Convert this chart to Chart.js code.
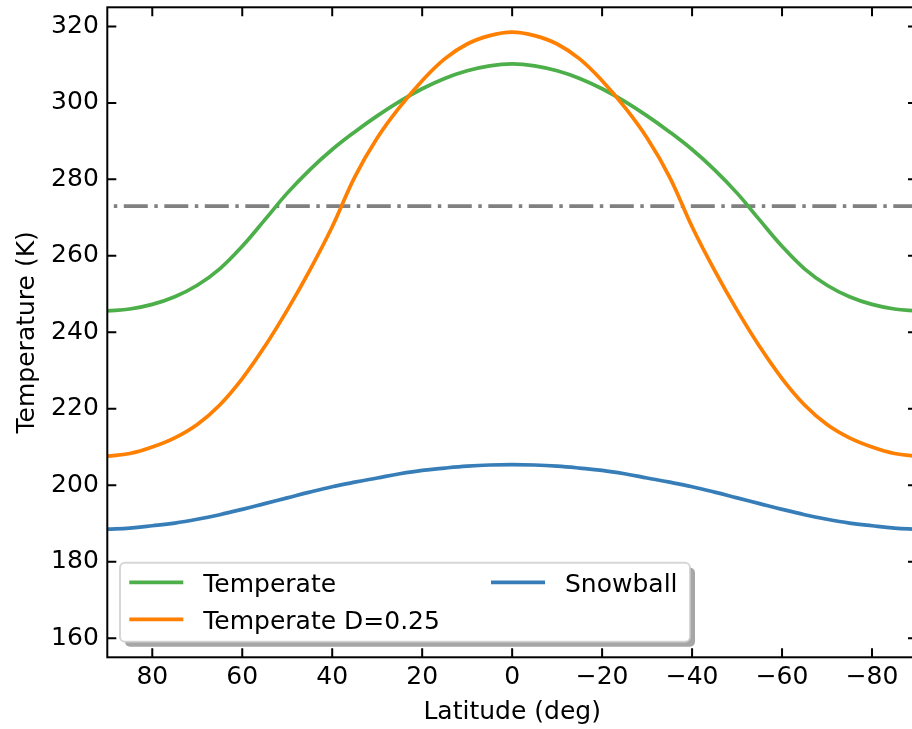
<!DOCTYPE html>
<html>
<head>
<meta charset="utf-8">
<title>Temperature vs latitude</title>
<script src="https://cdn.jsdelivr.net/npm/chart.js@4.4.0/dist/chart.umd.min.js"></script>
<style>
  html, body { margin: 0; padding: 0; background: #fff; overflow: hidden; }
  #wrap { position: relative; width: 930px; height: 729px; }
</style>
</head>
<body>
<div id="wrap"><canvas id="tempChart"></canvas></div>
<script>
// latitude grid in degrees, north pole to south pole
const latitude = [90, 85, 80, 75, 70, 65, 60, 55, 50, 45, 40, 35, 30, 25, 20, 15, 10, 5, 0,
                  -5, -10, -15, -20, -25, -30, -35, -40, -45, -50, -55, -60, -65, -70, -75, -80, -85, -90];

// equilibrium temperatures (K)
const temperate = [245.6, 246.1, 247.3, 249.3, 252.3, 256.6, 262.5, 269.4, 276.4, 282.5, 287.8, 292.4, 296.6, 300.4, 303.7, 306.4, 308.4, 309.7, 310.2,
                   309.7, 308.4, 306.4, 303.7, 300.4, 296.6, 292.4, 287.8, 282.5, 276.4, 269.4, 262.5, 256.6, 252.3, 249.3, 247.3, 246.1, 245.6];
const temperateD025 = [207.6, 208.3, 210.0, 212.4, 215.9, 221.0, 227.9, 236.3, 245.8, 256.2, 267.6, 280.6, 290.8, 298.9, 305.8, 311.5, 315.4, 317.6, 318.5,
                       317.6, 315.4, 311.5, 305.8, 298.9, 290.8, 280.6, 267.6, 256.2, 245.8, 236.3, 227.9, 221.0, 215.9, 212.4, 210.0, 208.3, 207.6];
const snowball = [188.5, 188.8, 189.4, 190.1, 191.1, 192.3, 193.7, 195.2, 196.7, 198.2, 199.6, 200.8, 201.9, 203.0, 203.9, 204.5, 205.0, 205.3, 205.4,
                  205.3, 205.0, 204.5, 203.9, 203.0, 201.9, 200.8, 199.6, 198.2, 196.7, 195.2, 193.7, 192.3, 191.1, 190.1, 189.4, 188.8, 188.5];
const freezing = 273;

const latTicks = [80, 60, 40, 20, 0, -20, -40, -60, -80];
const tempTicks = [160, 180, 200, 220, 240, 260, 280, 300, 320];

const pts = (ys) => latitude.map((x, i) => ({ x: x, y: ys[i] }));
const fmt = (v) => (v < 0 ? '\u2212' + Math.abs(v) : String(v));

Chart.defaults.font.family = "'DejaVu Sans', sans-serif";
Chart.defaults.font.size = 25;
Chart.defaults.color = '#000';

// box around the axes with inward ticks on all four sides
const frame = {
  id: 'frame',
  afterDatasetsDraw(chart) {
    const { ctx, chartArea: a, scales: { x, y } } = chart;
    ctx.save();
    ctx.strokeStyle = '#000';
    ctx.lineWidth = 2;
    ctx.strokeRect(a.left, a.top, a.right - a.left, a.bottom - a.top);
    ctx.beginPath();
    latTicks.forEach(v => {
      const px = x.getPixelForValue(v);
      ctx.moveTo(px, a.bottom); ctx.lineTo(px, a.bottom - 9);
      ctx.moveTo(px, a.top); ctx.lineTo(px, a.top + 9);
    });
    tempTicks.forEach(v => {
      const py = y.getPixelForValue(v);
      ctx.moveTo(a.left, py); ctx.lineTo(a.left + 9, py);
      ctx.moveTo(a.right, py); ctx.lineTo(a.right - 9, py);
    });
    ctx.stroke();
    ctx.restore();
  }
};

function roundRect(ctx, x, y, w, h, r) {
  ctx.beginPath();
  ctx.moveTo(x + r, y);
  ctx.arcTo(x + w, y, x + w, y + h, r);
  ctx.arcTo(x + w, y + h, x, y + h, r);
  ctx.arcTo(x, y + h, x, y, r);
  ctx.arcTo(x, y, x + w, y, r);
  ctx.closePath();
}

// two-column legend with a drop shadow, drawn inside the plot
const legendBox = {
  id: 'legendBox',
  afterDraw(chart) {
    const ctx = chart.ctx;
    const bx = 120, by = 562.7, bw = 570, bh = 79;
    ctx.save();
    ctx.fillStyle = 'rgba(77,77,77,0.5)';
    roundRect(ctx, bx + 5, by + 5, bw, bh, 5);
    ctx.fill();
    ctx.fillStyle = '#fff';
    roundRect(ctx, bx, by, bw, bh, 5);
    ctx.fill();
    ctx.strokeStyle = 'rgba(204,204,204,0.8)';
    ctx.lineWidth = 2;
    ctx.stroke();

    const slots = [{ x: 129.3, y: 582.3 }, { x: 129.3, y: 619.3 }, { x: 491, y: 582.3 }];
    const items = chart.data.datasets.filter(d => d.label);
    ctx.font = "25px 'DejaVu Sans'";
    ctx.textBaseline = 'alphabetic';
    ctx.textAlign = 'left';
    items.forEach((d, i) => {
      const s = slots[i];
      ctx.strokeStyle = d.borderColor;
      ctx.lineWidth = d.borderWidth;
      ctx.beginPath();
      ctx.moveTo(s.x, s.y);
      ctx.lineTo(s.x + 54, s.y);
      ctx.stroke();
      ctx.fillStyle = '#000';
      ctx.fillText(d.label, s.x + 74, s.y + 9.5);
    });
    ctx.restore();
  }
};

new Chart(document.getElementById('tempChart'), {
  type: 'line',
  data: {
    datasets: [
      { label: 'Temperate', data: pts(temperate), borderColor: '#4daf4a', borderWidth: 3.7, order: 3 },
      { label: 'Temperate D=0.25', data: pts(temperateD025), borderColor: '#ff7f00', borderWidth: 3.7, order: 2 },
      { label: 'Snowball', data: pts(snowball), borderColor: '#377eb8', borderWidth: 3.7, order: 1 },
      { label: '', data: [{ x: 90, y: freezing }, { x: -90, y: freezing }], borderColor: '#808080',
        borderWidth: 3.75, borderDash: [24, 6.5, 3.5, 6.5], borderDashOffset: 24, tension: 0, order: 4 }
    ]
  },
  options: {
    responsive: true,
    maintainAspectRatio: false,
    animation: false,
    devicePixelRatio: 1,
    layout: { padding: { top: 7.3, right: 13, bottom: 0, left: 0 } },
    elements: {
      point: { radius: 0 },
      line: { fill: false, tension: 0.4, borderCapStyle: 'butt' }
    },
    plugins: { legend: { display: false }, tooltip: { enabled: false } },
    scales: {
      x: {
        type: 'linear', min: -90, max: 90, reverse: true,
        afterBuildTicks: s => { s.ticks = latTicks.map(v => ({ value: v })); },
        afterFit: s => { s.height = 71.7; s.paddingLeft = 0; s.paddingRight = 0; },
        grid: { display: false, drawTicks: false },
        border: { display: false },
        ticks: { padding: 5, maxRotation: 0, autoSkip: false, callback: v => fmt(v) },
        title: { display: true, text: 'Latitude (deg)', padding: { top: 0, bottom: 1.5 } }
      },
      y: {
        type: 'linear', min: 155, max: 325,
        afterBuildTicks: s => { s.ticks = tempTicks.map(v => ({ value: v })); },
        afterFit: s => { s.width = 107.3; s.paddingTop = 0; s.paddingBottom = 0; },
        grid: { display: false, drawTicks: false },
        border: { display: false },
        ticks: { padding: 8.5, autoSkip: false, callback: v => fmt(v) },
        title: { display: true, text: 'Temperature (K)', padding: { top: 12.5, bottom: 0 } }
      }
    }
  },
  plugins: [frame, legendBox]
});
</script>
</body>
</html>
